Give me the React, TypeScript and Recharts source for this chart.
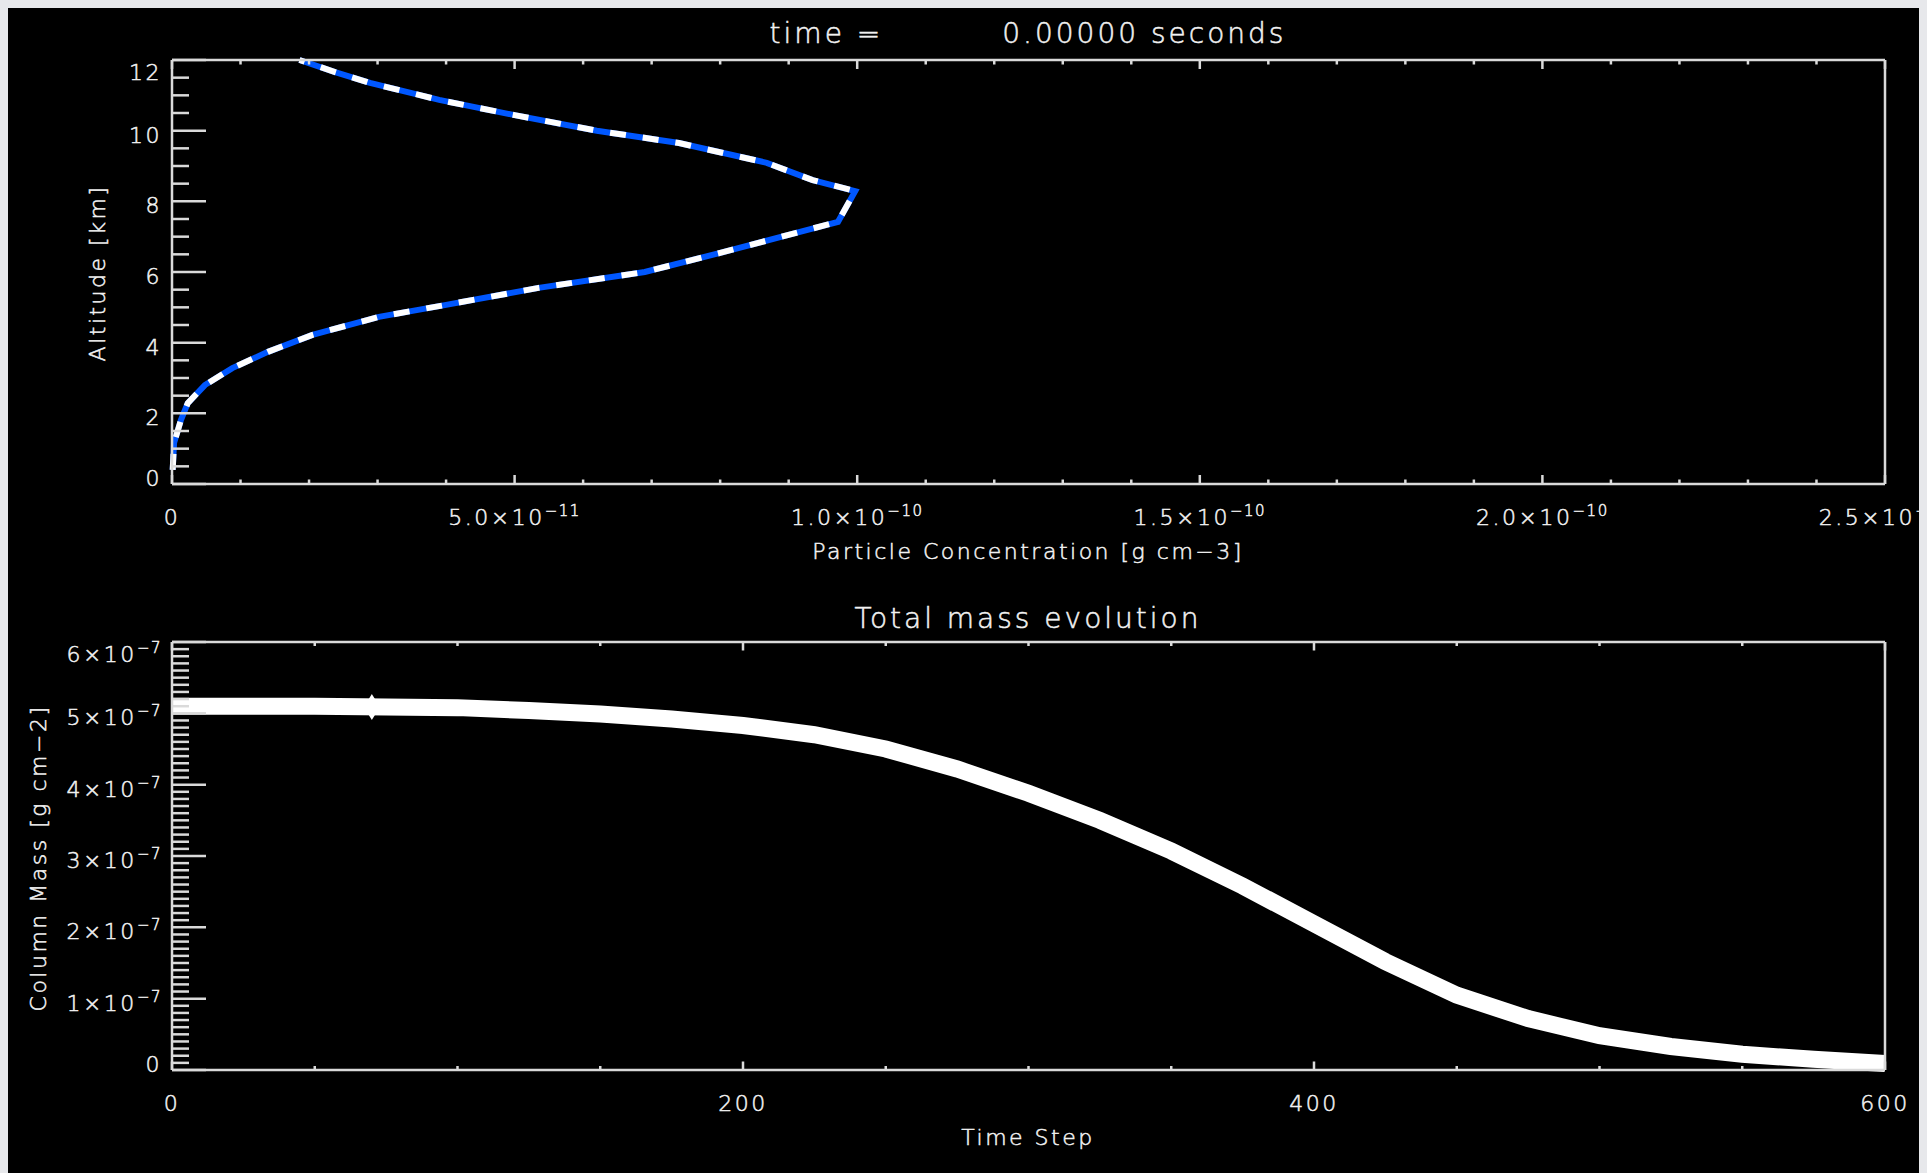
import { LineChart, Line, XAxis, YAxis, ReferenceDot } from "recharts";

// profile at time = 0 (altitude in km, concentration in g cm-3)
const altitudeKm = [0.4, 1.16, 1.81, 2.29, 2.8, 3.28, 3.74, 4.22, 4.73, 5.07, 5.55, 6.0, 6.54, 7.13, 7.42, 8.29, 8.6, 9.09, 9.65, 10.0, 10.44, 10.87, 11.35, 11.66, 12.0];
const concentration = [0.001e-10, 0.003e-10, 0.013e-10, 0.023e-10, 0.048e-10, 0.088e-10, 0.14e-10, 0.205e-10, 0.302e-10, 0.4e-10, 0.535e-10, 0.69e-10, 0.8e-10, 0.915e-10, 0.972e-10, 0.997e-10, 0.935e-10, 0.868e-10, 0.74e-10, 0.62e-10, 0.5e-10, 0.39e-10, 0.289e-10, 0.238e-10, 0.186e-10];

// total column mass vs time step (g cm-2)
const timeStep = [0, 25, 50, 75, 100, 125, 150, 175, 200, 225, 250, 275, 300, 325, 350, 375, 400, 425, 450, 475, 500, 525, 550, 575, 600];
const columnMass = [5.1e-7, 5.1e-7, 5.1e-7, 5.09e-7, 5.08e-7, 5.04e-7, 4.99e-7, 4.92e-7, 4.83e-7, 4.7e-7, 4.5e-7, 4.22e-7, 3.88e-7, 3.5e-7, 3.07e-7, 2.58e-7, 2.05e-7, 1.52e-7, 1.05e-7, 0.72e-7, 0.48e-7, 0.33e-7, 0.22e-7, 0.15e-7, 0.09e-7];

// small diamond on the mass curve
const markerStep = 70;
const markerMass = 5.09e-7;

// axes
const concMajor = [0, 5e-11, 1e-10, 1.5e-10, 2e-10, 2.5e-10];
const concLabels = [["0", ""], ["5.0×10", "−11"], ["1.0×10", "−10"], ["1.5×10", "−10"], ["2.0×10", "−10"], ["2.5×10", "−10"]];
const altMajor = [0, 2, 4, 6, 8, 10, 12];
const altLabels = [["0", ""], ["2", ""], ["4", ""], ["6", ""], ["8", ""], ["10", ""], ["12", ""]];
const stepMajor = [0, 200, 400, 600];
const stepLabels = [["0", ""], ["200", ""], ["400", ""], ["600", ""]];
const massMajor = [0, 1e-7, 2e-7, 3e-7, 4e-7, 5e-7, 6e-7];
const massLabels = [["0", ""], ["1×10", "−7"], ["2×10", "−7"], ["3×10", "−7"], ["4×10", "−7"], ["5×10", "−7"], ["6×10", "−7"]];

const range = (max: number, step: number) =>
  Array.from({ length: Math.round(max / step) + 1 }, (_, i) => i * step);

const concTicks = range(2.5e-10, 1e-11);
const altTicks = range(12, 0.5);
const stepTicks = range(600, 50);
const massTicks = range(6e-7, 1e-8);

const INK = "#f2f2f2";
const AXIS = "#dadada";
const FONT = "'DejaVu Sans', sans-serif";
const textStyle = {
  fill: INK,
  stroke: INK,
  strokeWidth: 0.5,
  fontFamily: FONT,
  fontSize: 22,
  letterSpacing: 2.5,
  fontWeight: 200,
};

function Label({ x, y, anchor, lab }: any) {
  return (
    <text x={x} y={y} textAnchor={anchor} {...textStyle}>
      {lab[0]}
      {lab[1] && (
        <tspan dy={-9} fontSize={15} letterSpacing={1.5}>
          {lab[1]}
        </tspan>
      )}
    </text>
  );
}

function makeTick(side: string, majors: number[], labels: string[][], majorLen: number, minorLen: number) {
  const top = majors[majors.length - 1];
  return (props: any) => {
    const { x, y, payload } = props;
    const v = payload.value;
    const idx = majors.findIndex((m) => Math.abs(m - v) < top * 1e-6);
    const len = idx >= 0 ? majorLen : minorLen;
    let line;
    if (side === "left") line = <line x1={x} y1={y} x2={x + len} y2={y} />;
    else if (side === "right") line = <line x1={x} y1={y} x2={x - len} y2={y} />;
    else if (side === "bottom") line = <line x1={x} y1={y} x2={x} y2={y - len} />;
    else line = <line x1={x} y1={y} x2={x} y2={y + len} />;
    let label = null;
    if (idx >= 0 && side === "left") {
      const dy = idx === majors.length - 1 ? 20 : idx === 0 ? 2 : 12;
      label = <Label x={x - 10} y={y + dy} anchor="end" lab={labels[idx]} />;
    }
    if (idx >= 0 && side === "bottom") {
      label = <Label x={x} y={y + 41} anchor="middle" lab={labels[idx]} />;
    }
    return (
      <g>
        <g stroke={AXIS} strokeWidth={2.5}>{line}</g>
        {label}
      </g>
    );
  };
}

const axisLine = { stroke: AXIS, strokeWidth: 2.5 };

function Diamond(props: any) {
  const { cx, cy } = props;
  return <path d={`M${cx},${cy - 13} L${cx + 8},${cy} L${cx},${cy + 13} L${cx - 8},${cy} Z`} fill="#ffffff" />;
}

export default function App() {
  const profile = altitudeKm.map((alt, i) => ({ alt, conc: concentration[i] }));
  const mass = timeStep.map((t, i) => ({ t, m: columnMass[i] }));

  return (
    <div style={{ position: "relative", width: 1919, height: 1165, background: "#000" }}>
      <style>{`body{background:#e7e8eb;overflow:hidden}`}</style>

      <LineChart
        width={1919}
        height={560}
        data={profile}
        margin={{ top: 51, right: 41, bottom: 34, left: 0 }}
        style={{ position: "absolute", left: 0, top: 0 }}
      >
        <XAxis xAxisId="b" dataKey="conc" type="number" domain={[0, 2.5e-10]} ticks={concTicks} interval={0}
          height={50} tickSize={0} tickMargin={0} tickLine={false} axisLine={axisLine}
          tick={makeTick("bottom", concMajor, concLabels, 9, 4.5)} />
        <XAxis xAxisId="t" orientation="top" dataKey="conc" type="number" domain={[0, 2.5e-10]} ticks={concTicks} interval={0}
          height={1} tickSize={0} tickMargin={0} tickLine={false} axisLine={axisLine}
          tick={makeTick("top", concMajor, concLabels, 9, 4.5)} />
        <YAxis yAxisId="l" type="number" domain={[0, 12]} ticks={altTicks} interval={0}
          width={164} tickSize={0} tickMargin={0} tickLine={false} axisLine={axisLine}
          tick={makeTick("left", altMajor, altLabels, 34, 17)} />
        <YAxis yAxisId="r" orientation="right" type="number" domain={[0, 12]} ticks={altTicks} interval={0}
          width={1} tickSize={0} tickMargin={0} tickLine={false} axisLine={axisLine}
          tick={makeTick("right", altMajor, altLabels, 34, 17)} />
        <Line xAxisId="b" yAxisId="l" dataKey="alt" name="profile" stroke="#0057ff" strokeWidth={6}
          dot={false} activeDot={false} isAnimationActive={false} type="linear" />
        <Line xAxisId="b" yAxisId="l" dataKey="alt" name="profile dashes" stroke="#ffffff" strokeWidth={6}
          strokeDasharray="16 17" dot={false} activeDot={false} isAnimationActive={false} type="linear" />
      </LineChart>

      <LineChart
        width={1919}
        height={565}
        data={mass}
        margin={{ top: 33, right: 41, bottom: 53, left: 0 }}
        style={{ position: "absolute", left: 0, top: 600 }}
      >
        <XAxis xAxisId="b" dataKey="t" type="number" domain={[0, 600]} ticks={stepTicks} interval={0}
          height={50} tickSize={0} tickMargin={0} tickLine={false} axisLine={axisLine}
          tick={makeTick("bottom", stepMajor, stepLabels, 8.5, 4)} />
        <XAxis xAxisId="t" orientation="top" dataKey="t" type="number" domain={[0, 600]} ticks={stepTicks} interval={0}
          height={1} tickSize={0} tickMargin={0} tickLine={false} axisLine={axisLine}
          tick={makeTick("top", stepMajor, stepLabels, 8.5, 4)} />
        <YAxis yAxisId="l" type="number" domain={[0, 6e-7]} ticks={massTicks} interval={0}
          width={164} tickSize={0} tickMargin={0} tickLine={false} axisLine={axisLine}
          tick={makeTick("left", massMajor, massLabels, 34, 17)} />
        <YAxis yAxisId="r" orientation="right" type="number" domain={[0, 6e-7]} ticks={massTicks} interval={0}
          width={1} tickSize={0} tickMargin={0} tickLine={false} axisLine={axisLine}
          tick={makeTick("right", massMajor, massLabels, 34, 17)} />
        <Line xAxisId="b" yAxisId="l" dataKey="m" name="column mass" stroke="#ffffff" strokeWidth={17}
          dot={false} activeDot={false} isAnimationActive={false} type="linear" />
        <ReferenceDot xAxisId="b" yAxisId="l" x={markerStep} y={markerMass} r={8} shape={<Diamond />} />
      </LineChart>

      <svg width={1919} height={1165} style={{ position: "absolute", left: 0, top: 0, pointerEvents: "none" }}>
        <text x={1020} y={35} textAnchor="middle" {...textStyle} fontSize={28} letterSpacing={3} style={{ whiteSpace: "pre" }}>
          {"time =          0.00000 seconds"}
        </text>
        <text x={1020} y={551} textAnchor="middle" {...textStyle}>Particle Concentration [g cm−3]</text>
        <text x={97} y={265} textAnchor="middle" transform="rotate(-90 97 265)" {...textStyle}>Altitude [km]</text>
        <text x={1020} y={620} textAnchor="middle" {...textStyle} fontSize={28} letterSpacing={3}>Total mass evolution</text>
        <text x={1020} y={1137} textAnchor="middle" {...textStyle}>Time Step</text>
        <text x={38} y={850} textAnchor="middle" transform="rotate(-90 38 850)" {...textStyle}>Column Mass [g cm−2]</text>
      </svg>
    </div>
  );
}
